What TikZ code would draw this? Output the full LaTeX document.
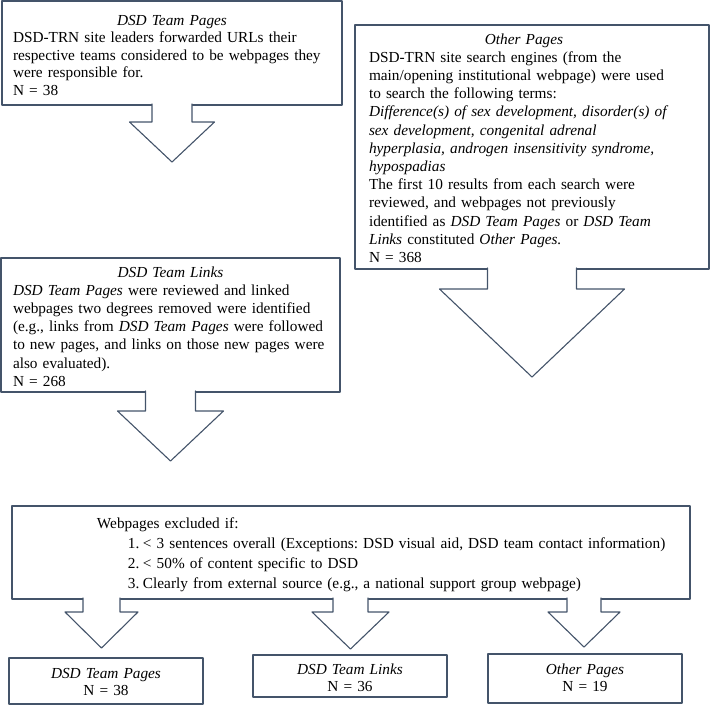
\documentclass[tikz,border=0pt]{standalone}
\usepackage{fontspec}
\setmainfont{Liberation Serif}
\usepackage{tikz}
\usetikzlibrary{calc}
\definecolor{ttztua}{rgb}{0.267,0.329,0.416}
\frenchspacing

\begin{document}
\begin{tikzpicture}[line cap=round,line join=round,x=1.0pt,y=-1.0pt,
  box/.style={draw=ttztua,line width=1.1pt,fill=white,anchor=north west,inner ysep=0pt,outer sep=0pt,align=left,font=\fontsize{15.3}{18.2}\selectfont},
  smallbox/.style={box,align=center,inner xsep=5pt,text width=184pt,font=\fontsize{15.3}{17}\selectfont},
  blockarrow/.style={draw=ttztua,line width=1.1pt,fill=white}]
\useasboundingbox (0,0) rectangle (710,705);
% upper boxes
\node[box,inner xsep=11pt,text width=318pt,text height=24pt,text depth=80pt,font=\fontsize{15.3}{17.6}\selectfont] (teampages) at (2,1) {\makebox[\hsize]{\textit{DSD Team Pages}}\\DSD-TRN site leaders forwarded URLs their\\respective teams considered to be webpages they\\were responsible for.\\N = 38};
\node[box,inner xsep=14pt,text width=326pt,text height=19pt,text depth=225pt] (otherpages) at (355,25) {\makebox[310pt]{\textit{Other Pages}}\\DSD-TRN site search engines (from the\\main/opening institutional webpage) were used\\to search the following terms:\\\textit{Difference(s) of sex development, disorder(s) of}\\\textit{sex development, congenital adrenal}\\\textit{hyperplasia, androgen insensitivity syndrome,}\\\textit{hypospadias}\\The first 10 results from each search were\\reviewed, and webpages not previously\\identified as \textit{DSD Team Pages} or \textit{DSD Team}\\\textit{Links} constituted \textit{Other Pages.}\\N = 368};
\node[box,inner xsep=12pt,text width=315pt,text height=19pt,text depth=115pt] (teamlinks) at (1,258) {\makebox[\hsize]{\textit{DSD Team Links}}\\\textit{DSD Team Pages} were reviewed and linked\\webpages two degrees removed were identified\\\mbox{(e.g., links from \textit{DSD Team Pages} were followed}\\\mbox{to new pages, and links on those new pages were}\\also evaluated).\\N = 268};
% exclusion criteria
\node[box,inner xsep=0pt,text width=678pt,text height=22pt,text depth=71pt,font=\fontsize{15.3}{20}\selectfont] (exclusion) at (12,506) {\hspace*{85pt}Webpages excluded if:\\\hspace*{116pt}\makebox[15pt][l]{1.}< 3 sentences overall (Exceptions: DSD visual aid, DSD team contact information)\\\hspace*{116pt}\makebox[15pt][l]{2.}< 50\% of content specific to DSD\\\hspace*{116pt}\makebox[15pt][l]{3.}Clearly from external source (e.g., a national support group webpage)};
% final counts
\node[smallbox,text height=20pt,text depth=26pt] (finalpages) at (9,658) {\textit{DSD Team Pages}\\N = 38};
\node[smallbox,text height=19pt,text depth=23pt] (finallinks) at (253,655) {\textit{DSD Team Links}\\N = 36};
\node[smallbox,text height=20pt,text depth=29pt] (finalother) at (488,654) {\textit{Other Pages}\\N = 19};
% block arrows
\draw[blockarrow] ($(teampages.south)+(-20,-1)$) -- ++(0,18) -- ++(-22.5,0) -- ++(42.5,40) -- ++(42.5,-40) -- ++(-22.5,0) -- ++(0,-18);
\draw[blockarrow] ($(otherpages.south)+(-44.5,-1)$) -- ++(0,21) -- ++(-48,0) -- ++(92.5,88) -- ++(92.5,-88) -- ++(-48,0) -- ++(0,-21);
\draw[blockarrow] ($(teamlinks.south)+(-25,-1)$) -- ++(0,20) -- ++(-28,0) -- ++(53,50) -- ++(53,-50) -- ++(-28,0) -- ++(0,-20);
\draw[blockarrow] ($(exclusion.south west)+(71,-1)$) -- ++(0,14) -- ++(-18,0) -- ++(36.5,36) -- ++(36.5,-36) -- ++(-18,0) -- ++(0,-14);
\draw[blockarrow] ($(exclusion.south)+(-18,-1)$) -- ++(0,14) -- ++(-21,0) -- ++(38.5,37) -- ++(38.5,-37) -- ++(-21,0) -- ++(0,-14);
\draw[blockarrow] ($(exclusion.south east)+(-123,-1)$) -- ++(0,14) -- ++(-19,0) -- ++(36,35) -- ++(36,-35) -- ++(-19,0) -- ++(0,-14);
\end{tikzpicture}
\end{document}
